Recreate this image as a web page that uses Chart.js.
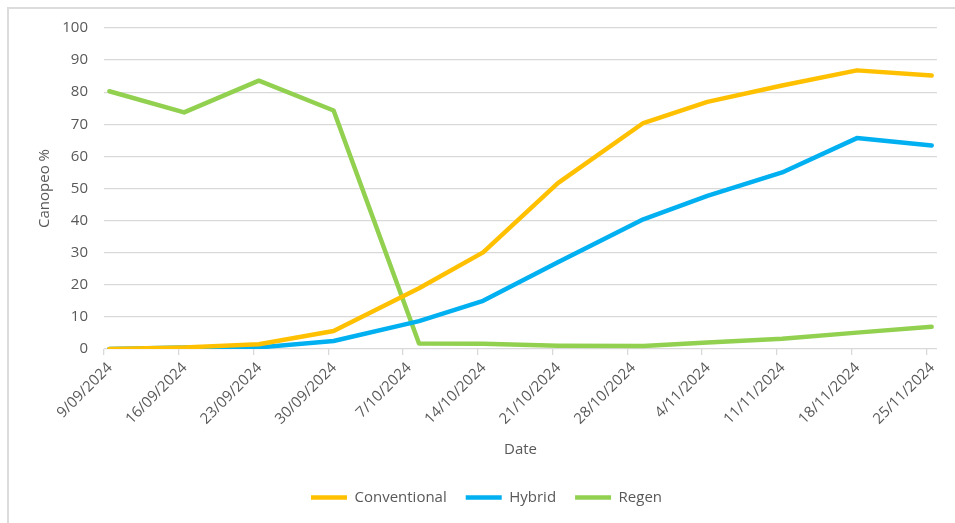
<!DOCTYPE html>
<html lang="en">
<head>
  <meta charset="UTF-8" />
  <title>Canopeo % by date</title>
  <script src="https://cdn.jsdelivr.net/npm/chart.js"></script>
  <style>
    body { margin: 0; background: #fff; overflow: hidden; }
    #frame { position: absolute; left: 7px; top: 7px; width: 970px; height: 540px;
             border-left: 2px solid #dcdcdc; border-top: 2px solid #dcdcdc; }
    canvas { position: absolute; left: 0; top: 0; }
  </style>
</head>
<body>
  <div id="frame"></div>
  <canvas id="canopyChart" width="955" height="523"></canvas>

  <script>
    // sampling dates (d/mm/yyyy)
    const sampleDates = ['9/09/2024', '16/09/2024', '23/09/2024', '30/09/2024', '8/10/2024', '14/10/2024',
                         '21/10/2024', '29/10/2024', '4/11/2024', '11/11/2024', '18/11/2024', '25/11/2024'];
    const conventional = [0, 0.5, 1.5, 5.6, 18.9, 30.1, 51.7, 70.4, 77, 82.1, 86.8, 85.2];
    const hybrid       = [0, 0.5, 0.5, 2.5, 8.7, 15.0, 27.0, 40.4, 47.7, 55.0, 65.7, 63.4];
    const regen        = [80.3, 73.7, 83.6, 74.3, 1.7, 1.6, 1.0, 0.9, 2.0, 3.2, 5.1, 6.9];

    // weekly axis labels
    const tickDates = ['9/09/2024', '16/09/2024', '23/09/2024', '30/09/2024', '7/10/2024', '14/10/2024',
                       '21/10/2024', '28/10/2024', '4/11/2024', '11/11/2024', '18/11/2024', '25/11/2024'];

    const DAY = 86400000;
    function parseDate(s) {
      const [d, m, y] = s.split('/').map(Number);
      return Date.UTC(y, m - 1, d);
    }
    const start = parseDate(tickDates[0]);
    const dayOf = s => (parseDate(s) - start) / DAY;

    // each point sits in the middle of its day slot
    const toPoints = vals => sampleDates.map((d, i) => ({ x: dayOf(d) + 0.5, y: vals[i] }));
    const tickDays = tickDates.map(dayOf);
    const tickText = {};
    tickDates.forEach(t => { tickText[dayOf(t)] = t; });

    const textColor = '#595959';
    const gridColor = '#d9d9d9';
    const font = { family: '"Open Sans", sans-serif', size: 15 };

    function series(label, values, color) {
      return {
        label: label,
        data: toPoints(values),
        borderColor: color,
        backgroundColor: color,
        borderWidth: 4.5,
        borderCapStyle: 'round',
        borderJoinStyle: 'round',
        pointRadius: 0,
        pointHoverRadius: 0,
        tension: 0
      };
    }

    new Chart(document.getElementById('canopyChart'), {
      type: 'line',
      data: {
        datasets: [
          series('Conventional', conventional, '#FFC000'),
          series('Hybrid', hybrid, '#00B0F0'),
          series('Regen', regen, '#92D050')
        ]
      },
      options: {
        responsive: false,
        animation: false,
        layout: { padding: { left: 36, right: 18, top: 28, bottom: 8 } },
        scales: {
          x: {
            type: 'linear',
            min: 0,
            max: 78,
            afterBuildTicks: scale => { scale.ticks = tickDays.map(v => ({ value: v })); },
            afterFit: scale => { scale.height = 122; },
            ticks: {
              autoSkip: false,
              minRotation: 45,
              maxRotation: 45,
              padding: 4,
              labelOffset: 6,
              color: textColor,
              font: font,
              callback: v => tickText[v] || ''
            },
            grid: { drawOnChartArea: false, drawTicks: true, tickLength: 6, color: gridColor, lineWidth: 1.3 },
            border: { display: false },
            title: { display: true, text: 'Date', color: textColor, font: font, padding: { top: 0, bottom: 12 } }
          },
          y: {
            min: 0,
            max: 100,
            afterFit: scale => { scale.width = 68; },
            ticks: { stepSize: 10, padding: 16, color: textColor, font: font },
            grid: { drawTicks: false, color: gridColor, lineWidth: 1.3 },
            border: { display: false },
            title: { display: true, text: 'Canopeo %', color: textColor, font: font, padding: 0 }
          }
        },
        plugins: {
          legend: {
            position: 'bottom',
            labels: {
              usePointStyle: true,
              pointStyle: 'line',
              pointStyleWidth: 36,
              padding: 19,
              color: textColor,
              font: font
            }
          },
          tooltip: { enabled: false }
        }
      }
    });
  </script>
</body>
</html>
